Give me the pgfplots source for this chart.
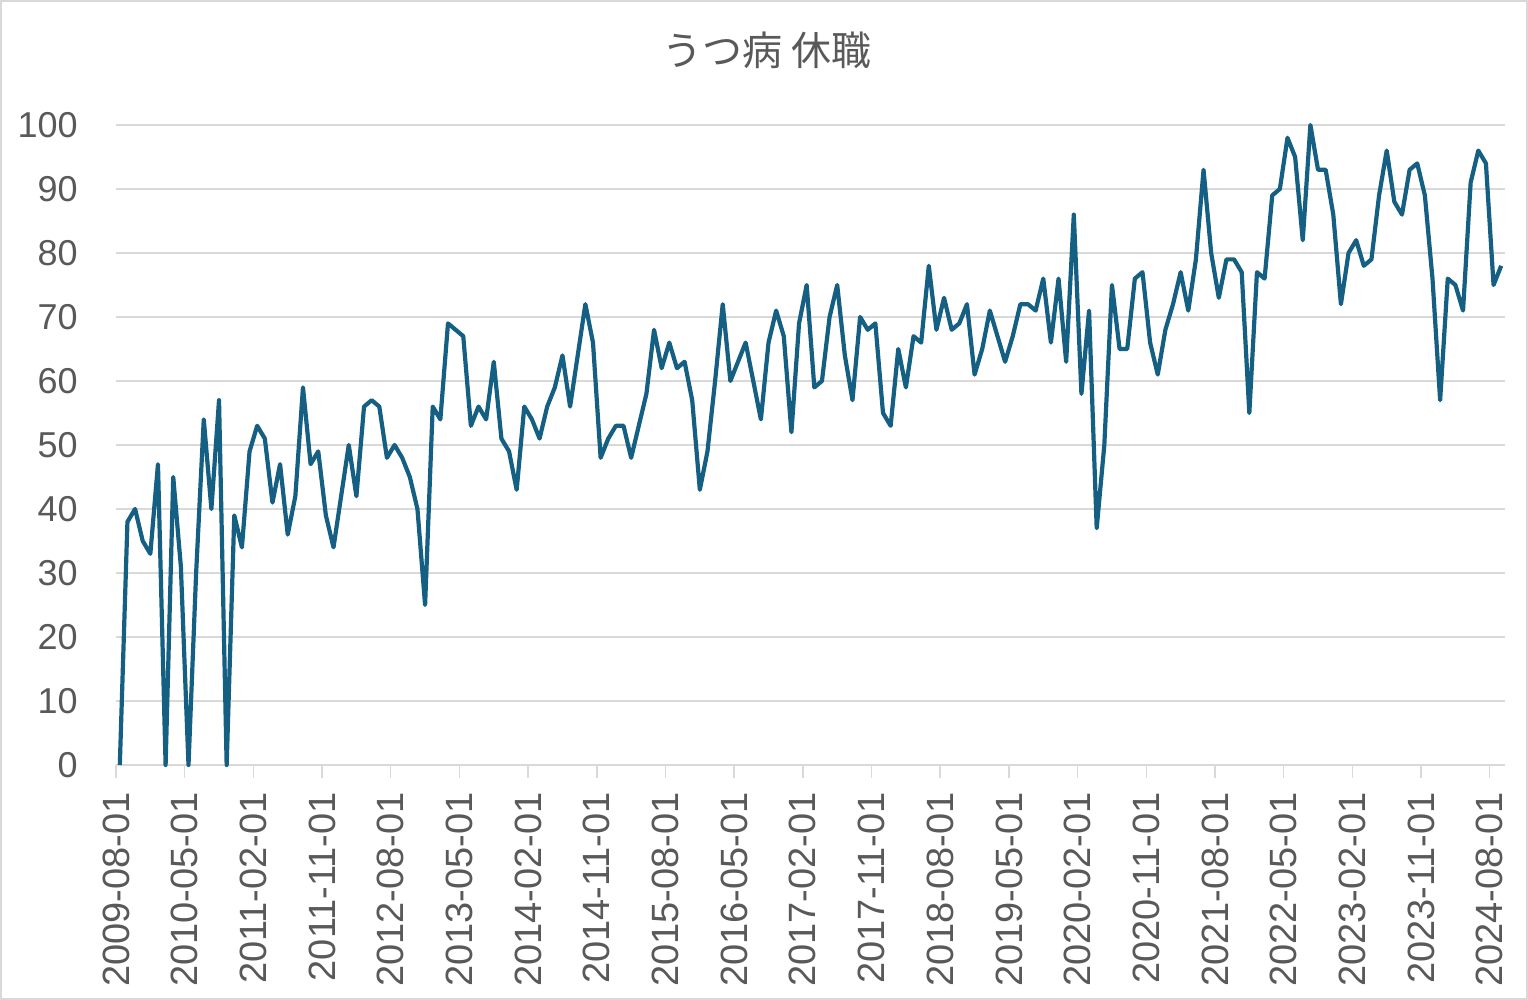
\documentclass[border=0pt]{standalone}
\usepackage{fontspec}
\setmainfont{Liberation Sans}
\newfontfamily\jp{Noto Sans CJK JP}
\usepackage{pgfplots}
\pgfplotsset{compat=1.18}
\usepackage{pgfplotstable}
\definecolor{lineblue}{HTML}{156082}
\definecolor{gridgray}{HTML}{D9D9D9}
\definecolor{textgray}{HTML}{595959}
\pgfplotstableread{
n v
0 0
1 38
2 40
3 35
4 33
5 47
6 0
7 45
8 31
9 0
10 30
11 54
12 40
13 57
14 0
15 39
16 34
17 49
18 53
19 51
20 41
21 47
22 36
23 42
24 59
25 47
26 49
27 39
28 34
29 42
30 50
31 42
32 56
33 57
34 56
35 48
36 50
37 48
38 45
39 40
40 25
41 56
42 54
43 69
44 68
45 67
46 53
47 56
48 54
49 63
50 51
51 49
52 43
53 56
54 54
55 51
56 56
57 59
58 64
59 56
60 64
61 72
62 66
63 48
64 51
65 53
66 53
67 48
68 53
69 58
70 68
71 62
72 66
73 62
74 63
75 57
76 43
77 49
78 60
79 72
80 60
81 63
82 66
83 60
84 54
85 66
86 71
87 67
88 52
89 69
90 75
91 59
92 60
93 70
94 75
95 64
96 57
97 70
98 68
99 69
100 55
101 53
102 65
103 59
104 67
105 66
106 78
107 68
108 73
109 68
110 69
111 72
112 61
113 65
114 71
115 67
116 63
117 67
118 72
119 72
120 71
121 76
122 66
123 76
124 63
125 86
126 58
127 71
128 37
129 50
130 75
131 65
132 65
133 76
134 77
135 66
136 61
137 68
138 72
139 77
140 71
141 79
142 93
143 80
144 73
145 79
146 79
147 77
148 55
149 77
150 76
151 89
152 90
153 98
154 95
155 82
156 100
157 93
158 93
159 86
160 72
161 80
162 82
163 78
164 79
165 89
166 96
167 88
168 86
169 93
170 94
171 89
172 76
173 57
174 76
175 75
176 71
177 91
178 96
179 94
180 75
181 78
}\datatable
\begin{document}
\begin{tikzpicture}
\path[use as bounding box] (0pt,0pt) rectangle (764pt,500pt);
\draw[gridgray, line width=0.75pt] (0.5pt,0.5pt) rectangle (763.5pt,499.5pt);
\node[font=\jp\fontsize{20}{24}\selectfont, text=textgray] at (383.5pt,475pt) {うつ病 休職};
\begin{axis}[
  at={(58pt,117.5pt)}, anchor=south west,
  scale only axis, width=694.5pt, height=320pt,
  xmin=-0.5, xmax=181.5, ymin=0, ymax=100,
  axis x line*=bottom, axis y line*=left,
  x axis line style={gridgray, line width=0.75pt},
  y axis line style={draw=none},
  ymajorgrids, grid style={gridgray, line width=0.75pt},
  ytick={0,10,...,100},
  xtick={-0.5,8.5,...,180},
  xticklabels={2009-08-01,2010-05-01,2011-02-01,2011-11-01,2012-08-01,2013-05-01,2014-02-01,2014-11-01,2015-08-01,2016-05-01,2017-02-01,2017-11-01,2018-08-01,2019-05-01,2020-02-01,2020-11-01,2021-08-01,2022-05-01,2023-02-01,2023-11-01,2024-08-01},
  tick align=outside, major tick length=6.5pt,
  xtick style={gridgray, line width=0.75pt},
  ytick style={draw=none},
  /pgf/number format/assume math mode=true,
  yticklabel style={font=\fontsize{18}{20}\selectfont, text=textgray, anchor=east, inner sep=0pt, xshift=-12.5pt},
  xticklabel style={font=\fontsize{19}{21}\selectfont, text=textgray, rotate=90, anchor=east, inner sep=0pt, xshift=-7pt},
  clip=false,
]
\addplot[lineblue, line width=2.1pt, line join=round, mark=none] table[x=n, y=v] {\datatable};
\end{axis}
\end{tikzpicture}
\end{document}
